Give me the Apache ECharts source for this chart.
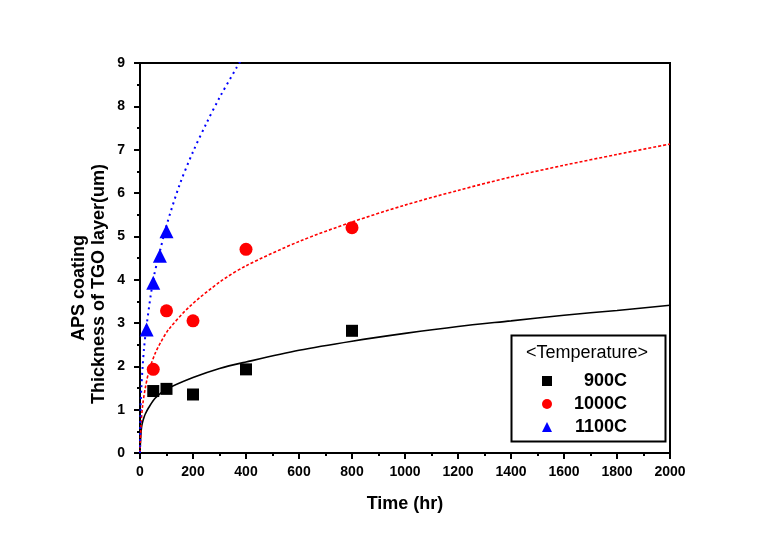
<!DOCTYPE html>
<html>
<head>
<meta charset="utf-8">
<script src="https://cdn.jsdelivr.net/npm/echarts@6/dist/echarts.min.js"></script>
<style>html,body{margin:0;padding:0;background:#fff}#c{width:779px;height:544px}</style>
</head>
<body>
<div id="c"></div>
<script>
// Measured data points
var time900 = [50, 100, 200, 400, 800];
var val900 = [1.43, 1.48, 1.35, 1.93, 2.82];
var time1000 = [50, 100, 200, 400, 800];
var val1000 = [1.93, 3.28, 3.05, 4.70, 5.20];
var time1100 = [25, 50, 75, 100];
var val1100 = [2.85, 3.93, 4.55, 5.12];

// Fit curves
var fitTime900 = [0, 3, 6, 10, 15, 20, 33, 58, 100, 200, 300, 400, 600, 800, 1000, 1200, 1400, 1600, 1800, 2000];
var fitVal900 = [0, 0.4, 0.6, 0.72, 0.82, 0.9, 1.05, 1.27, 1.47, 1.74, 1.95, 2.10, 2.37, 2.58, 2.76, 2.92, 3.05, 3.18, 3.29, 3.41];
var fitTime1000 = [0, 3, 5, 10, 20, 35, 58, 77, 108, 189, 302, 400, 600, 800, 1000, 1200, 1400, 1600, 1800, 2000];
var fitVal1000 = [0, 0.5, 0.75, 1.1, 1.5, 1.92, 2.31, 2.54, 2.85, 3.39, 3.95, 4.32, 4.88, 5.33, 5.72, 6.06, 6.37, 6.64, 6.89, 7.13];
var fitTime1100 = [0, 2, 5, 10, 15, 25, 50, 75, 100, 150, 200, 250, 300, 365, 380];
var fitVal1100 = [0, 1.0, 1.5, 2.0, 2.4, 2.95, 4.0, 4.65, 5.25, 6.2, 6.95, 7.6, 8.2, 8.9, 9.05];

var xTicks = [0, 200, 400, 600, 800, 1000, 1200, 1400, 1600, 1800, 2000];
var yTicks = [0, 1, 2, 3, 4, 5, 6, 7, 8, 9];
var seriesNames = ['900C', '1000C', '1100C'];
var legendTitle = '<Temperature>';
var yTitle1 = 'APS coating';
var yTitle2 = 'Thickness of TGO layer(um)';

function pairs(xs, ys) { return xs.map(function (x, i) { return [x, ys[i]]; }); }

var FONT = '"Liberation Sans", Arial, sans-serif';
var chart = echarts.init(document.getElementById('c'), null, { renderer: 'canvas' });
chart.setOption({
  animation: false,
  backgroundColor: '#fff',
  grid: { left: 140, right: 109, top: 63, bottom: 91, show: true, borderColor: '#000', borderWidth: 2, backgroundColor: 'transparent' },
  xAxis: {
    type: 'value', min: xTicks[0], max: xTicks[xTicks.length - 1], interval: 200,
    name: 'Time (hr)', nameLocation: 'middle', nameGap: 42,
    nameTextStyle: { fontFamily: FONT, fontWeight: 'bold', fontSize: 18, color: '#000' },
    axisLine: { lineStyle: { color: '#000', width: 2 } },
    axisTick: { show: true, inside: false, length: 6, lineStyle: { color: '#000', width: 2 } },
    minorTick: { show: true, splitNumber: 2, length: 3, lineStyle: { color: '#000', width: 2 } },
    axisLabel: { fontFamily: FONT, fontWeight: 'bold', fontSize: 14, color: '#000', margin: 12,
      formatter: function (v) { return String(v); } },
    splitLine: { show: false }
  },
  yAxis: {
    type: 'value', min: yTicks[0], max: yTicks[yTicks.length - 1], interval: 1,
    axisLine: { lineStyle: { color: '#000', width: 2 } },
    axisTick: { show: true, inside: false, length: 6, lineStyle: { color: '#000', width: 2 } },
    minorTick: { show: true, splitNumber: 2, length: 3, lineStyle: { color: '#000', width: 2 } },
    axisLabel: { fontFamily: FONT, fontWeight: 'bold', fontSize: 14, color: '#000', margin: 15,
      formatter: function (v) { return String(v); } },
    splitLine: { show: false }
  },
  legend: {
    data: seriesNames, orient: 'vertical', left: 537, top: 367,
    itemWidth: 10, itemHeight: 10, itemGap: 5,
    formatter: function (n) { return '{a|' + n + '}'; },
    textStyle: { fontFamily: FONT, fontWeight: 'bold', fontSize: 18, color: '#000',
      rich: { a: { width: 70, align: 'right', fontFamily: FONT, fontWeight: 'bold', fontSize: 18, color: '#000' } } }
  },
  graphic: [
    { type: 'rect', left: 509, top: 333, shape: { width: 154, height: 106 }, style: { fill: 'none', stroke: '#000', lineWidth: 2 }, z: 10 },
    { type: 'text', x: 587, y: 353, style: { text: legendTitle, font: '18px ' + FONT, fill: '#000', textAlign: 'center', textVerticalAlign: 'middle' }, z: 10 },
    { type: 'text', x: 79, y: 288, rotation: Math.PI / 2, style: { text: yTitle1, font: 'bold 18px ' + FONT, fill: '#000', textAlign: 'center', textVerticalAlign: 'middle' }, z: 10 },
    { type: 'text', x: 99, y: 284, rotation: Math.PI / 2, style: { text: yTitle2, font: 'bold 18px ' + FONT, fill: '#000', textAlign: 'center', textVerticalAlign: 'middle' }, z: 10 }
  ],
  series: [
    { name: 'fit900', type: 'line', data: pairs(fitTime900, fitVal900), smooth: 0.3, symbol: 'none', clip: true,
      lineStyle: { color: '#000', width: 1.6, type: 'solid' }, z: 2 },
    { name: 'fit1000', type: 'line', data: pairs(fitTime1000, fitVal1000), smooth: 0.3, symbol: 'none', clip: true,
      lineStyle: { color: '#ff0000', width: 1.6, type: [3, 2] }, z: 2 },
    { name: 'fit1100', type: 'line', data: pairs(fitTime1100, fitVal1100), smooth: 0.3, symbol: 'none', clip: true,
      lineStyle: { color: '#0000ff', width: 2, type: [2, 4] }, z: 2 },
    { name: seriesNames[0], type: 'scatter', data: pairs(time900, val900), symbol: 'rect', symbolSize: 12,
      itemStyle: { color: '#000', opacity: 1 }, z: 3 },
    { name: seriesNames[1], type: 'scatter', data: pairs(time1000, val1000), symbol: 'circle', symbolSize: 13,
      itemStyle: { color: '#ff0000', opacity: 1 }, z: 3 },
    { name: seriesNames[2], type: 'scatter', data: pairs(time1100, val1100), symbol: 'triangle', symbolSize: 14,
      itemStyle: { color: '#0000ff', opacity: 1 }, z: 3 }
  ]
});
</script>
</body>
</html>
